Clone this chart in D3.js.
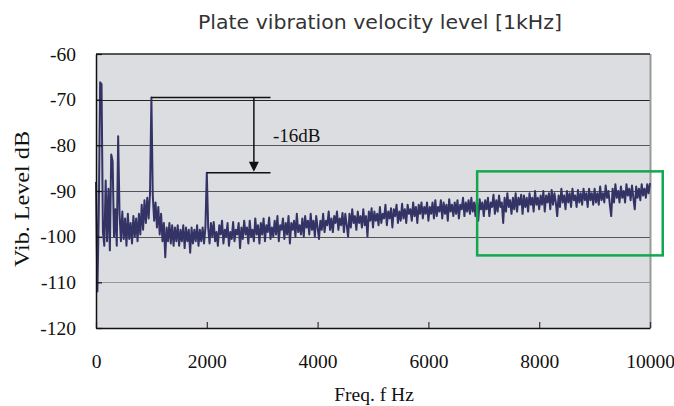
<!DOCTYPE html>
<html>
<head>
<meta charset="utf-8">
<script src="https://cdn.jsdelivr.net/npm/d3@7"></script>
<style>
  body { margin: 0; background: #fff; }
  text { font-family: "Liberation Serif", "Times New Roman", serif; }
</style>
</head>
<body>
<div id="chart"></div>
<script>
// spectrum sampled every 25 Hz, 0 .. 10000 Hz
var freqStep = 25;
var levels = [
  // 0 - 975
  -88, -112, -95, -66.2, -66.6, -99, -102, -87.7, -101, -89.5,
  -103, -82, -83.5, -100, -94, -102, -78, -95, -101, -94.5,
  -100.5, -96, -102, -95, -100.5, -97, -101.5, -95.5, -100, -96,
  -101, -95, -99.5, -93, -98.5, -92, -97, -91.5, -96, -90.5,
  // 1000 - 1975
  -69.5, -91, -96.5, -92.5, -98, -93.5, -99.5, -95, -101, -97,
  -104.5, -98, -101, -97, -101.5, -97.5, -102, -98, -101, -97.5,
  -102, -98.5, -101, -97.5, -102.5, -98, -101, -98.5, -103.5, -98,
  -101.5, -98.5, -101, -97.5, -102, -98.5, -101, -98, -101.5, -98,
  // 2000 - 2975
  -86, -98, -101.5, -97, -100, -96.8, -101, -99, -102, -97.5,
  -99.5, -96.5, -101.5, -98.5, -100, -97, -102, -99, -100.5, -96.8,
  -101, -98.5, -99.5, -97, -102.5, -98, -100.5, -96.5, -99.5, -98,
  -101.5, -96.5, -100, -98.5, -101, -96, -99.5, -97.5, -101.5, -97,
  // 3000 - 3975
  -99.5, -96, -101, -97.5, -99, -95.8, -100.5, -98, -100, -96.5,
  -99.5, -95.5, -101, -97.5, -98.5, -96, -100.5, -97, -99.5, -95.5,
  -101.5, -97, -98.5, -96.5, -100, -95, -99, -97.5, -99.5, -96,
  -100, -95.5, -98, -96.5, -99.5, -95, -98.5, -96.5, -100, -95.5,
  // 4000 - 4975
  -98, -100.5, -96.5, -98.5, -95, -99, -96.5, -97.5, -94.5, -98.5,
  -96, -99, -95.5, -97, -94.5, -98.5, -96, -97.5, -94.8, -99,
  -95, -97.5, -100, -95, -98, -94, -97, -95.5, -98.5, -94.5,
  -97, -95.5, -98, -94, -97.5, -95.5, -100, -94.5, -96.5, -93.8,
  // 5000 - 5975
  -98, -94.5, -96.5, -95, -97.5, -93.5, -97, -95, -96, -93,
  -97.5, -94.5, -96, -93.8, -98, -94, -95.5, -93, -97, -94.5,
  -96.5, -92.8, -96, -94, -97, -93, -95, -94, -96.5, -92.5,
  -95.5, -93.5, -97, -93, -95, -92.5, -96, -93.5, -95, -92.5,
  // 6000 - 6975
  -96.5, -93.5, -95, -92.5, -96, -92, -95.5, -93.5, -94.5, -92,
  -96, -92.5, -95, -93, -96.5, -91.8, -94.5, -93, -95.5, -92.5,
  -95, -92, -96, -93, -94, -91.5, -95.5, -92.5, -94.5, -92,
  -95, -91.5, -94.5, -92.5, -95.5, -92, -96.5, -91.8, -94, -92.5,
  // 7000 - 7975
  -95.5, -92, -94, -91.5, -95.5, -92.5, -93.5, -90.8, -95, -92,
  -94.5, -91, -93.5, -92.5, -97, -91.5, -94.5, -90.5, -93.5, -92,
  -95, -91.5, -94, -90.5, -94.5, -91.5, -93, -90.8, -95, -91,
  -93.5, -91.5, -94.5, -90.5, -93, -91.5, -94.5, -90, -93, -91.5,
  // 8000 - 8975
  -94, -91, -93, -90, -94.5, -91, -92.5, -90.5, -94, -89.8,
  -93, -90.5, -92.5, -95.5, -91, -93.5, -89.5, -92.5, -91, -94,
  -90, -92.5, -90.5, -93.5, -89.5, -92, -91, -93.5, -89.8, -92.5,
  -90.5, -93, -89.5, -92, -90.5, -93.5, -89.5, -92, -90.5, -93,
  // 9000 - 10000
  -89.5, -92.5, -90.5, -93, -89, -92, -90.5, -92.5, -88.8, -91.5,
  -90, -93, -95.5, -89.5, -92.5, -88.5, -91.5, -90, -92.5, -89,
  -91.5, -90, -92.5, -88.5, -91, -89.5, -92, -88.8, -91.5, -94,
  -89, -91.5, -89.5, -92, -88.5, -91, -89.5, -91.5, -88.5, -90.5,
  -88.3
];

var xTicks = [0, 2000, 4000, 6000, 8000, 10000];
var yTicks = [-120, -110, -100, -90, -80, -70, -60];

// -16dB annotation: level of the 1kHz peak and the 2kHz peak
var peakFreqs = [1000, 2000];
var peakLevels = [-69.5, -86];
var arrowFreq = 2850;
var lineEndFreq = 3150;
var dropLabel = '-16dB';

// highlighted region (green box)
var boxFreqs = [6880, 10230];
var boxLevels = [-85.7, -104.1];

var width = 674, height = 406;
var margin = { top: 54, right: 24, bottom: 78, left: 96 };

var svg = d3.select('#chart').append('svg')
  .attr('width', width)
  .attr('height', height);

var x = d3.scaleLinear().domain([0, 10000]).range([margin.left, width - margin.right]);
var y = d3.scaleLinear().domain([-120, -60]).range([height - margin.bottom, margin.top]);

// plot background
svg.append('rect')
  .attr('x', x(0))
  .attr('y', y(-60))
  .attr('width', x(10000) - x(0))
  .attr('height', y(-120) - y(-60))
  .attr('fill', '#dcdde0');

// horizontal grid lines
svg.append('g')
  .selectAll('line')
  .data(yTicks.filter(function(d) { return d > -120 && d < -60; }))
  .join('line')
  .attr('x1', x(0))
  .attr('x2', x(10000))
  .attr('y1', function(d) { return Math.round(y(d)) + 0.5; })
  .attr('y2', function(d) { return Math.round(y(d)) + 0.5; })
  .attr('stroke', function(d) { return d === -70 ? '#222' : (d === -110 ? '#999' : '#555'); })
  .attr('stroke-width', 1.2);

// right border (grey) and top border
svg.append('line')
  .attr('x1', x(10000) + 0.5).attr('x2', x(10000) + 0.5)
  .attr('y1', y(-60)).attr('y2', y(-120))
  .attr('stroke', '#9a9a9a').attr('stroke-width', 2);
svg.append('line')
  .attr('x1', x(0)).attr('x2', x(10000))
  .attr('y1', y(-60)).attr('y2', y(-60))
  .attr('stroke', '#222').attr('stroke-width', 1.5);

// spectrum line
var line = d3.line()
  .x(function(d, i) { return x(i * freqStep); })
  .y(function(d) { return y(d); });

svg.append('path')
  .datum(levels)
  .attr('fill', 'none')
  .attr('stroke', '#333366')
  .attr('stroke-width', 2)
  .attr('stroke-linejoin', 'round')
  .attr('d', line);

// axes
var plain = function(d) { return String(d); };

var xAxis = d3.axisBottom(x).tickValues(xTicks).tickFormat(plain)
  .tickSizeInner(-6).tickSizeOuter(0).tickPadding(26);
var gx = svg.append('g')
  .attr('transform', 'translate(0,' + y(-120) + ')')
  .call(xAxis);
gx.select('.domain').attr('stroke', '#111').attr('stroke-width', 1.5);
gx.selectAll('.tick line').attr('stroke', '#333').attr('stroke-width', 1.2);
gx.selectAll('.tick text')
  .attr('fill', '#111')
  .style('font-size', '19.5px')
  .style('font-family', '"Liberation Serif", serif');

var yAxis = d3.axisLeft(y).tickValues(yTicks).tickFormat(plain)
  .tickSizeInner(-6).tickSizeOuter(0).tickPadding(20);
var gy = svg.append('g')
  .attr('transform', 'translate(' + x(0) + ',0)')
  .call(yAxis);
gy.select('.domain').attr('stroke', '#111').attr('stroke-width', 1.5);
gy.selectAll('.tick line').attr('stroke', '#111').attr('stroke-width', 1.2);
gy.selectAll('.tick text')
  .attr('fill', '#111')
  .style('font-size', '19.5px')
  .style('font-family', '"Liberation Serif", serif');

// -16dB annotation
var ann = svg.append('g').attr('stroke', '#111').attr('stroke-width', 1.5);
peakFreqs.forEach(function(f, i) {
  ann.append('line')
    .attr('x1', x(f)).attr('x2', x(lineEndFreq))
    .attr('y1', y(peakLevels[i])).attr('y2', y(peakLevels[i]));
});
ann.append('line')
  .attr('x1', x(arrowFreq)).attr('x2', x(arrowFreq))
  .attr('y1', y(peakLevels[0])).attr('y2', y(peakLevels[1]) - 10);
svg.append('path')
  .attr('d', 'M' + (x(arrowFreq) - 5) + ',' + (y(peakLevels[1]) - 11) +
             'L' + (x(arrowFreq) + 5) + ',' + (y(peakLevels[1]) - 11) +
             'L' + x(arrowFreq) + ',' + (y(peakLevels[1]) - 1) + 'Z')
  .attr('fill', '#111');
svg.append('text')
  .attr('x', x(arrowFreq) + 19)
  .attr('y', y((peakLevels[0] + peakLevels[1]) / 2) + 7)
  .attr('fill', '#111')
  .style('font-size', '19px')
  .text(dropLabel);

// green highlight box
svg.append('rect')
  .attr('x', x(boxFreqs[0]))
  .attr('y', y(boxLevels[0]))
  .attr('width', x(boxFreqs[1]) - x(boxFreqs[0]))
  .attr('height', y(boxLevels[1]) - y(boxLevels[0]))
  .attr('fill', 'none')
  .attr('stroke', '#12a84e')
  .attr('stroke-width', 2.5);

// titles
svg.append('text')
  .attr('x', 380)
  .attr('y', 29)
  .attr('text-anchor', 'middle')
  .attr('fill', '#333')
  .attr('textLength', 364)
  .attr('lengthAdjust', 'spacingAndGlyphs')
  .style('font-family', '"DejaVu Sans", Verdana, sans-serif')
  .style('font-size', '19.5px')
  .text('Plate vibration velocity level [1kHz]');

svg.append('text')
  .attr('x', 374)
  .attr('y', 401)
  .attr('text-anchor', 'middle')
  .attr('fill', '#111')
  .style('font-size', '19.5px')
  .text('Freq. f Hz');

svg.append('text')
  .attr('transform', 'translate(29,199) rotate(-90)')
  .attr('text-anchor', 'middle')
  .attr('fill', '#111')
  .attr('textLength', 136)
  .attr('lengthAdjust', 'spacingAndGlyphs')
  .style('font-size', '21px')
  .text('Vib. Level dB');
</script>
</body>
</html>
